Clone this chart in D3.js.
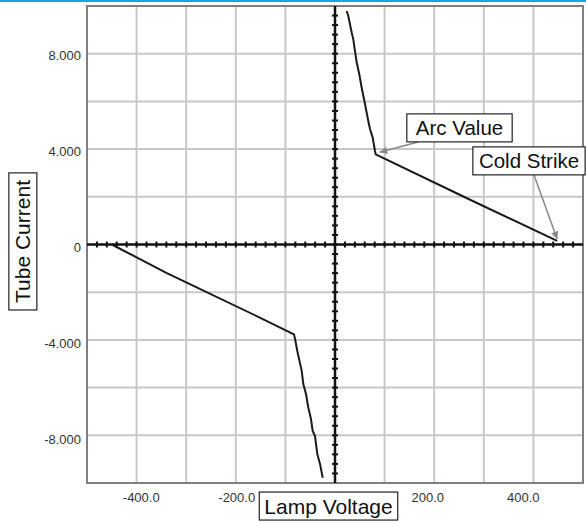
<!DOCTYPE html>
<html>
<head>
<meta charset="utf-8">
<script src="https://cdn.jsdelivr.net/npm/d3@7"></script>
<style>
  html, body { margin: 0; padding: 0; background: #fff; }
  svg { display: block; font-family: "Liberation Sans", Arial, sans-serif; }
</style>
</head>
<body>
<svg id="chart" width="586" height="521"></svg>
<script>
/* Data: lamp voltage (V) vs tube current */
var posVoltage = [23.6, 26.8, 33.7, 36.9, 40.3, 43.8, 49.0, 53.8, 60.5, 67.1, 70.6, 76.0, 80.6, 82.1, 265, 448];
var posCurrent = [9.79, 9.58, 8.88, 8.60, 8.11, 7.62, 7.14, 6.57, 5.89, 5.18, 4.84, 4.48, 3.92, 3.78, 1.95, 0.15];

var negVoltage = [-450, -339, -158, -82.7, -80.6, -76.0, -67.1, -63.9, -58.5, -53.8, -48.4, -45.0, -40.3, -35.7, -30.2, -24.8];
var negCurrent = [0, -1.2, -3.0, -3.77, -3.95, -4.47, -5.3, -5.85, -6.27, -6.84, -7.32, -7.82, -8.03, -8.78, -9.2, -9.78];

var xTickValues = [-400, -200, 200, 400];
var xTickLabels = ['-400.0', '-200.0', '200.0', '400.0'];
var yTickValues = [8, 4, 0, -4, -8];
var yTickLabels = ['8.000', '4.000', '0', '-4.000', '-8.000'];

var xGrid = [-400, -300, -200, -100, 100, 200, 300, 400];
var yGrid = [8, 6, 4, 2, -2, -4, -6, -8];

var annotations = [
  { text: 'Arc Value', v: 82.1, i: 3.78 },
  { text: 'Cold Strike', v: 448, i: 0.15 }
];

/* Layout */
var plotL = 87, plotR = 583, plotT = 6, plotB = 483;

var svg = d3.select('#chart');

var xScale = d3.scaleLinear().domain([-500, 500]).range([plotL, plotR]);
var yScale = d3.scaleLinear().domain([-10, 10]).range([plotB, plotT]);

// tick labels in the original sit on a slightly compressed scale
var xLabelScale = d3.scaleLinear().domain([-500, 500]).range([93.5, 571]);
var yLabelScale = d3.scaleLinear().domain([-10, 10]).range([488, 7]);

/* top blue rule */
svg.append('rect')
  .attr('x', 0).attr('y', 0)
  .attr('width', 586).attr('height', 2)
  .attr('fill', '#1aa3e6');

/* grid */
svg.append('g').selectAll('line')
  .data(xGrid)
  .join('line')
  .attr('x1', function (d) { return xScale(d); })
  .attr('x2', function (d) { return xScale(d); })
  .attr('y1', plotT).attr('y2', plotB)
  .attr('stroke', '#c8c8c8').attr('stroke-width', 2);

svg.append('g').selectAll('line')
  .data(yGrid)
  .join('line')
  .attr('y1', function (d) { return yScale(d); })
  .attr('y2', function (d) { return yScale(d); })
  .attr('x1', plotL).attr('x2', plotR)
  .attr('stroke', '#c8c8c8').attr('stroke-width', 2);

/* frame */
svg.append('rect')
  .attr('x', plotL).attr('y', plotT)
  .attr('width', plotR - plotL).attr('height', plotB - plotT)
  .attr('fill', 'none')
  .attr('stroke', '#7f7f7f').attr('stroke-width', 2);

/* zero axes with crossing ticks */
var x0 = xScale(0), y0 = yScale(0);
var axes = svg.append('g').attr('stroke', '#111');

axes.append('line')
  .attr('x1', plotL).attr('x2', plotR)
  .attr('y1', y0).attr('y2', y0)
  .attr('stroke-width', 2.5);
axes.append('line')
  .attr('x1', x0).attr('x2', x0)
  .attr('y1', plotT).attr('y2', plotB)
  .attr('stroke-width', 2.5);

var xMinor = d3.range(-480, 481, 20);
var yMinor = d3.range(-24, 25).map(function (k) { return k * 0.4; });

axes.append('g').selectAll('line')
  .data(xMinor)
  .join('line')
  .attr('x1', function (d) { return xScale(d); })
  .attr('x2', function (d) { return xScale(d); })
  .attr('y1', y0 - 3).attr('y2', y0 + 3)
  .attr('stroke-width', 2);

axes.append('g').selectAll('line')
  .data(yMinor)
  .join('line')
  .attr('y1', function (d) { return yScale(d); })
  .attr('y2', function (d) { return yScale(d); })
  .attr('x1', x0 - 3).attr('x2', x0 + 3)
  .attr('stroke-width', 2);

/* tick labels */
svg.append('g').selectAll('text')
  .data(xTickValues)
  .join('text')
  .attr('x', function (d) { return xLabelScale(d); })
  .attr('y', 502)
  .attr('text-anchor', 'middle')
  .attr('font-size', 13)
  .attr('fill', '#333')
  .text(function (d, i) { return xTickLabels[i]; });

svg.append('g').selectAll('text')
  .data(yTickValues)
  .join('text')
  .attr('x', 81)
  .attr('y', function (d) { return yLabelScale(d); })
  .attr('dy', '0.35em')
  .attr('text-anchor', 'end')
  .attr('font-size', 13)
  .attr('fill', '#333')
  .text(function (d, i) { return yTickLabels[i]; });

/* data lines */
var line = d3.line()
  .x(function (d) { return xScale(d[0]); })
  .y(function (d) { return yScale(d[1]); });

var posData = posVoltage.map(function (v, i) { return [v, posCurrent[i]]; });
var negData = negVoltage.map(function (v, i) { return [v, negCurrent[i]]; });

svg.append('g').selectAll('path')
  .data([posData, negData])
  .join('path')
  .attr('d', line)
  .attr('fill', 'none')
  .attr('stroke', '#1a1a1a')
  .attr('stroke-width', 2)
  .attr('stroke-linejoin', 'round');

/* boxed label helper */
function boxedText(x, y, text, size, rotate, padX, padY) {
  var g = svg.append('g')
    .attr('transform', 'translate(' + x + ',' + y + ')' + (rotate ? ' rotate(-90)' : ''));
  var t = g.append('text')
    .attr('text-anchor', 'middle')
    .attr('dy', '0.36em')
    .attr('font-size', size)
    .attr('fill', '#111')
    .text(text);
  var bb = t.node().getBBox();
  g.insert('rect', 'text')
    .attr('x', bb.x - padX).attr('y', bb.y - padY)
    .attr('width', bb.width + 2 * padX).attr('height', bb.height + 2 * padY)
    .attr('fill', '#fff')
    .attr('stroke', '#222').attr('stroke-width', 1.2);
  return g;
}

boxedText(22.8, 241.5, 'Tube Current', 21, true, 7, 2.5);
boxedText(328.5, 506, 'Lamp Voltage', 21, false, 5, 2.5);

/* annotations with arrows */
svg.append('defs').append('marker')
  .attr('id', 'arrow')
  .attr('viewBox', '0 0 10 10')
  .attr('refX', 10).attr('refY', 5)
  .attr('markerWidth', 5).attr('markerHeight', 5)
  .attr('orient', 'auto')
  .append('path')
  .attr('d', 'M0,0L10,5L0,10z')
  .attr('fill', '#888');

var annoPos = [
  { cx: 459.5, cy: 128, sx: 418, sy: 142, padX: 9 },
  { cx: 529, cy: 161, sx: 534, sy: 175, padX: 6 }
];

annotations.forEach(function (a, i) {
  var p = annoPos[i];
  svg.append('line')
    .attr('x1', p.sx).attr('y1', p.sy)
    .attr('x2', xScale(a.v) + (i === 0 ? 4 : 0))
    .attr('y2', yScale(a.i) - 2)
    .attr('stroke', '#888').attr('stroke-width', 1.5)
    .attr('marker-end', 'url(#arrow)');
  boxedText(p.cx, p.cy, a.text, 20.5, false, p.padX, 2.5);
});
</script>
</body>
</html>
